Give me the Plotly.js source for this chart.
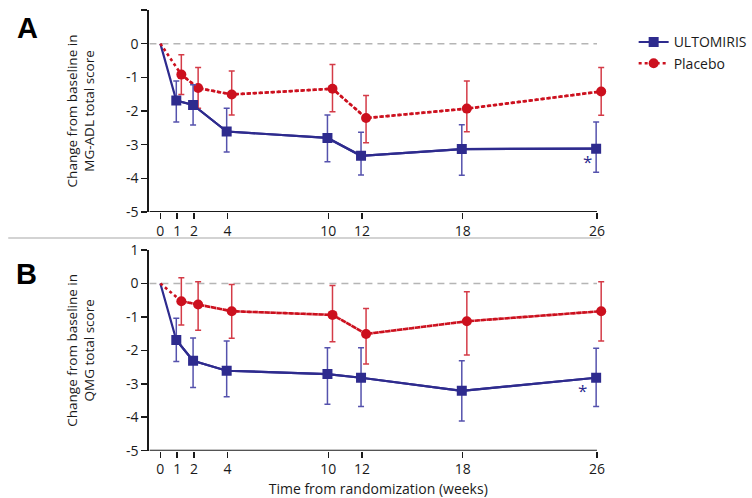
<!DOCTYPE html>
<html>
<head>
<meta charset="utf-8">
<script src="https://cdn.plot.ly/plotly-3.0.1.min.js"></script>
<style>html,body{margin:0;padding:0;background:#fff;}#chart{width:752px;height:498px;}</style>
</head>
<body>
<div id="chart"></div>
<script>
// ---- data ----
const weeks = [0, 1, 2, 4, 10, 12, 18, 26];
const xTickLabels = ["0", "1", "2", "4", "10", "12", "18", "26"];
const yTickVals = [-5, -4, -3, -2, -1, 0, 1];
const yTickLabels = ["-5", "-4", "-3", "-2", "-1", "0", "1"];

// Panel A: MG-ADL total score
const adlUlt = [0, -1.69, -1.82, -2.61, -2.80, -3.33, -3.13, -3.12];
const adlUltUp = [0, 0.58, 0.60, 0.69, 0.68, 0.70, 0.72, 0.79];
const adlUltDn = [0, 0.64, 0.60, 0.61, 0.71, 0.57, 0.78, 0.70];
const adlPbo = [0, -0.92, -1.32, -1.51, -1.34, -2.21, -1.93, -1.42];
const adlPboUp = [0, 0.59, 0.61, 0.70, 0.72, 0.67, 0.82, 0.71];
const adlPboDn = [0, 0.59, 0.60, 0.61, 0.68, 0.73, 0.69, 0.71];

// Panel B: QMG total score
const qmgUlt = [0, -1.69, -2.31, -2.61, -2.71, -2.82, -3.21, -2.82];
const qmgUltUp = [0, 0.65, 0.68, 0.89, 0.79, 0.90, 0.90, 0.88];
const qmgUltDn = [0, 0.64, 0.80, 0.78, 0.90, 0.86, 0.90, 0.86];
const qmgPbo = [0, -0.53, -0.63, -0.83, -0.94, -1.51, -1.13, -0.83];
const qmgPboUp = [0, 0.70, 0.68, 0.80, 0.88, 0.76, 0.88, 0.88];
const qmgPboDn = [0, 0.71, 0.77, 0.81, 0.80, 0.90, 1.01, 0.89];

const seriesNames = ["ULTOMIRIS", "Placebo"];
const panelLabels = ["A", "B"];
const yTitles = ["Change from baseline in<br>MG-ADL total score", "Change from baseline in<br>QMG total score"];
const xTitle = "Time from randomization (weeks)";

// ---- style ----
const BLUE = "#2e2b8e", BLUE_ERR = "#5552ad";
const RED = "#cc101e", RED_ERR = "#d43b47";
const AXIS = "#1a1a1a";
const FONT = "Open Sans, Liberation Sans, sans-serif";
const dodgeUlt = -0.05, dodgePbo = 0.25;

function dodge(arr, off) { return arr.map((w, i) => i === 0 ? w : w + off); }

function panelTraces(ult, ultUp, ultDn, pbo, pboUp, pboDn, xa, ya, showLeg) {
  const xu = dodge(weeks, dodgeUlt), xp = dodge(weeks, dodgePbo);
  return [
    {x: xu, y: ult, xaxis: xa, yaxis: ya, mode: "lines", line: {color: BLUE, width: 2.2},
     showlegend: false, hoverinfo: "skip"},
    {x: xp, y: pbo, xaxis: xa, yaxis: ya, mode: "lines", line: {color: RED, width: 2.6, dash: "dot"},
     showlegend: false, hoverinfo: "skip"},
    {x: xp.slice(1), y: pbo.slice(1), xaxis: xa, yaxis: ya, name: seriesNames[1], legendrank: 2,
     mode: "lines+markers", line: {color: RED, width: 2.6, dash: "dot"},
     marker: {symbol: "circle", size: 10, color: RED},
     error_y: {type: "data", symmetric: false, array: pboUp.slice(1), arrayminus: pboDn.slice(1),
               color: RED_ERR, thickness: 1.5, width: 3},
     showlegend: showLeg},
    {x: xu.slice(1), y: ult.slice(1), xaxis: xa, yaxis: ya, name: seriesNames[0], legendrank: 1,
     mode: "lines+markers", line: {color: BLUE, width: 2.2},
     marker: {symbol: "square", size: 10, color: BLUE},
     error_y: {type: "data", symmetric: false, array: ultUp.slice(1), arrayminus: ultDn.slice(1),
               color: BLUE_ERR, thickness: 1.5, width: 3},
     showlegend: showLeg}
  ];
}

const data = [].concat(
  panelTraces(adlUlt, adlUltUp, adlUltDn, adlPbo, adlPboUp, adlPboDn, "x", "y", true),
  panelTraces(qmgUlt, qmgUltUp, qmgUltDn, qmgPbo, qmgPboUp, qmgPboDn, "x2", "y2", false)
);

const xRange = [-0.65, 26.6];
const xDomain = [0.1995, 0.8105];

function xAxis(anchor, title) {
  return {
    domain: xDomain, anchor: anchor, range: xRange, showgrid: false, zeroline: false,
    showline: false,
    tickmode: "array", tickvals: weeks, ticktext: xTickLabels,
    ticks: "outside", ticklen: 6, tickwidth: 1.5, tickcolor: AXIS,
    tickfont: {family: FONT, size: 14, color: AXIS},
    title: title ? {text: title, font: {family: FONT, size: 14, color: AXIS}, standoff: 6} : {text: ""}
  };
}
function yAxis(anchor, domain, title) {
  return {
    domain: domain, anchor: anchor, range: [-5, 1], showgrid: false, zeroline: false,
    showline: true, linecolor: AXIS, linewidth: 2,
    tickmode: "array", tickvals: yTickVals, ticktext: yTickLabels,
    ticks: "outside", ticklen: 6, tickwidth: 1.5, tickcolor: AXIS,
    tickfont: {family: FONT, size: 14, color: AXIS},
    title: {text: title, font: {family: FONT, size: 13.5, color: AXIS}, standoff: 28}
  };
}

const lastWeek = weeks[weeks.length - 1];
const zeroLine = (xr, yr) => ({type: "line", xref: xr, yref: yr, x0: xRange[0], x1: lastWeek,
  y0: 0, y1: 0, line: {color: "#b5b5b5", width: 1.5, dash: "7px,5px"}, layer: "below"});
// x axis line ending at the last week
const xAxisLine = (xr, yr) => ({type: "line", xref: xr, yref: yr, x0: xRange[0], x1: lastWeek,
  y0: yTickVals[0], y1: yTickVals[0], line: {color: AXIS, width: 2}, layer: "above"});

const layout = {
  width: 752, height: 498, margin: {l: 0, r: 0, t: 0, b: 0},
  paper_bgcolor: "#fff", plot_bgcolor: "#fff",
  font: {family: FONT, color: AXIS},
  xaxis: xAxis("y", null),
  yaxis: yAxis("x", [0.5743, 0.98], yTitles[0]),
  xaxis2: xAxis("y2", xTitle),
  yaxis2: yAxis("x2", [0.095, 0.498], yTitles[1]),
  legend: {x: 0.846, y: 0.947, xanchor: "left", yanchor: "top", bgcolor: "rgba(0,0,0,0)",
           font: {family: FONT, size: 14, color: AXIS}, traceorder: "normal", itemwidth: 30},
  shapes: [
    zeroLine("x", "y"), zeroLine("x2", "y2"),
    xAxisLine("x", "y"), xAxisLine("x2", "y2"),
    {type: "line", xref: "paper", yref: "paper", x0: 0.011, x1: 0.802, y0: 0.522, y1: 0.522,
     line: {color: "#c4c4c4", width: 1.5}}
  ],
  annotations: [
    {text: "<b>" + panelLabels[0] + "</b>", xref: "paper", yref: "paper", x: 0.037, y: 0.944,
     xanchor: "center", yanchor: "middle", showarrow: false,
     font: {family: "Liberation Sans, Arial, sans-serif", size: 29, color: "#000"}},
    {text: "<b>" + panelLabels[1] + "</b>", xref: "paper", yref: "paper", x: 0.036, y: 0.45,
     xanchor: "center", yanchor: "middle", showarrow: false,
     font: {family: "Liberation Sans, Arial, sans-serif", size: 29, color: "#000"}},
    {text: "*", xref: "x", yref: "y", x: 25.45, y: -3.5, showarrow: false,
     font: {family: FONT, size: 17, color: BLUE}},
    {text: "*", xref: "x2", yref: "y2", x: 25.15, y: -3.2, showarrow: false,
     font: {family: FONT, size: 17, color: BLUE}}
  ],
  hovermode: false
};

Plotly.newPlot("chart", data, layout, {displayModeBar: false, staticPlot: true});
</script>
</body>
</html>
